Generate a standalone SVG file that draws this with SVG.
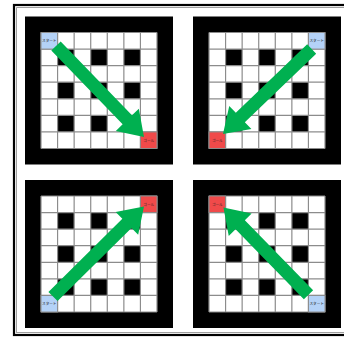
<svg xmlns="http://www.w3.org/2000/svg" xmlns:xlink="http://www.w3.org/1999/xlink" width="344" height="338" viewBox="0 0 344 338">
  <style>
    .grid line { stroke: #8c8c8c; stroke-width: 1.2; }
    .start { fill: #b4d2f7; stroke: #8c8c8c; stroke-width: 1; }
    .goal { fill: #f04a4a; stroke: #8c8c8c; stroke-width: 1; }
    .lbl { font-family: "Noto Sans CJK JP", "Noto Sans", sans-serif; font-size: 3.6px; fill: #222; text-anchor: middle; dominant-baseline: central; }
    .arrow { fill: #00b050; }
  </style>
  <defs>
    <g id="board">
      <rect x="0" y="0" width="148" height="148" fill="#000"/>
      <rect x="16" y="16" width="116" height="116" fill="#fff"/>
      <g fill="#000">
        <rect x="32.571" y="32.571" width="16.571" height="16.571"/>
        <rect x="65.714" y="32.571" width="16.571" height="16.571"/>
        <rect x="98.857" y="32.571" width="16.571" height="16.571"/>
        <rect x="32.571" y="65.714" width="16.571" height="16.571"/>
        <rect x="65.714" y="65.714" width="16.571" height="16.571"/>
        <rect x="98.857" y="65.714" width="16.571" height="16.571"/>
        <rect x="32.571" y="98.857" width="16.571" height="16.571"/>
        <rect x="65.714" y="98.857" width="16.571" height="16.571"/>
        <rect x="98.857" y="98.857" width="16.571" height="16.571"/>
      </g>
      <g class="grid">
        <line x1="16" y1="16" x2="16" y2="132"/>
        <line x1="32.571" y1="16" x2="32.571" y2="132"/>
        <line x1="49.143" y1="16" x2="49.143" y2="132"/>
        <line x1="65.714" y1="16" x2="65.714" y2="132"/>
        <line x1="82.286" y1="16" x2="82.286" y2="132"/>
        <line x1="98.857" y1="16" x2="98.857" y2="132"/>
        <line x1="115.429" y1="16" x2="115.429" y2="132"/>
        <line x1="132" y1="16" x2="132" y2="132"/>
        <line x1="16" y1="16" x2="132" y2="16"/>
        <line x1="16" y1="32.571" x2="132" y2="32.571"/>
        <line x1="16" y1="49.143" x2="132" y2="49.143"/>
        <line x1="16" y1="65.714" x2="132" y2="65.714"/>
        <line x1="16" y1="82.286" x2="132" y2="82.286"/>
        <line x1="16" y1="98.857" x2="132" y2="98.857"/>
        <line x1="16" y1="115.429" x2="132" y2="115.429"/>
        <line x1="16" y1="132" x2="132" y2="132"/>
      </g>
    </g>
  </defs>

  <rect width="344" height="338" fill="#fff"/>
  <g id="frame" fill="none">
    <rect x="14" y="5" width="400" height="330" stroke="#000" stroke-width="2.2"/>
    <rect x="16.6" y="7.6" width="400" height="325" stroke="#888" stroke-width="0.8"/>
  </g>

  <g id="panel-tl">
    <use xlink:href="#board" href="#board" x="25" y="16.5"/>
    <g id="tl-start"><rect class="start" x="41" y="32.5" width="16.571" height="16.571"/><text class="lbl" x="49.29" y="40.79">スタート</text></g>
    <g id="tl-goal"><rect class="goal" x="140.43" y="131.93" width="16.571" height="16.571"/><text class="lbl" x="148.71" y="140.21">ゴール</text></g>
  </g>

  <g id="panel-tr">
    <use xlink:href="#board" href="#board" x="193" y="16.5"/>
    <g id="tr-start"><rect class="start" x="308.43" y="32.5" width="16.571" height="16.571"/><text class="lbl" x="316.71" y="40.79">スタート</text></g>
    <g id="tr-goal"><rect class="goal" x="209" y="131.93" width="16.571" height="16.571"/><text class="lbl" x="217.29" y="140.21">ゴール</text></g>
  </g>

  <g id="panel-bl">
    <use xlink:href="#board" href="#board" x="25" y="180"/>
    <g id="bl-start"><rect class="start" x="41" y="295.43" width="16.571" height="16.571"/><text class="lbl" x="49.29" y="303.71">スタート</text></g>
    <g id="bl-goal"><rect class="goal" x="140.43" y="196" width="16.571" height="16.571"/><text class="lbl" x="148.71" y="204.29">ゴール</text></g>
  </g>

  <g id="panel-br">
    <use xlink:href="#board" href="#board" x="193" y="180"/>
    <g id="br-start"><rect class="start" x="308.43" y="295.43" width="16.571" height="16.571"/><text class="lbl" x="316.71" y="303.71">スタート</text></g>
    <g id="br-goal"><rect class="goal" x="209" y="196" width="16.571" height="16.571"/><text class="lbl" x="217.29" y="204.29">ゴール</text></g>
  </g>

  <g id="connectors" class="arrow">
    <polygon transform="translate(56,46) rotate(45.96)" points="0,-6.5 102.6,-6.5 102.6,-16 126.6,0 102.6,16 102.6,6.5 0,6.5"/>
    <polygon transform="translate(311.7,49) rotate(136.2)" points="0,-6.5 98.9,-6.5 98.9,-16 122.9,0 98.9,16 98.9,6.5 0,6.5"/>
    <polygon transform="translate(53,296.5) rotate(-44.7)" points="0,-6.5 104,-6.5 104,-16 128,0 104,16 104,6.5 0,6.5"/>
    <polygon transform="translate(308.5,294.7) rotate(-134.3)" points="0,-6.5 97.8,-6.5 97.8,-16 121.8,0 97.8,16 97.8,6.5 0,6.5"/>
  </g>
</svg>
